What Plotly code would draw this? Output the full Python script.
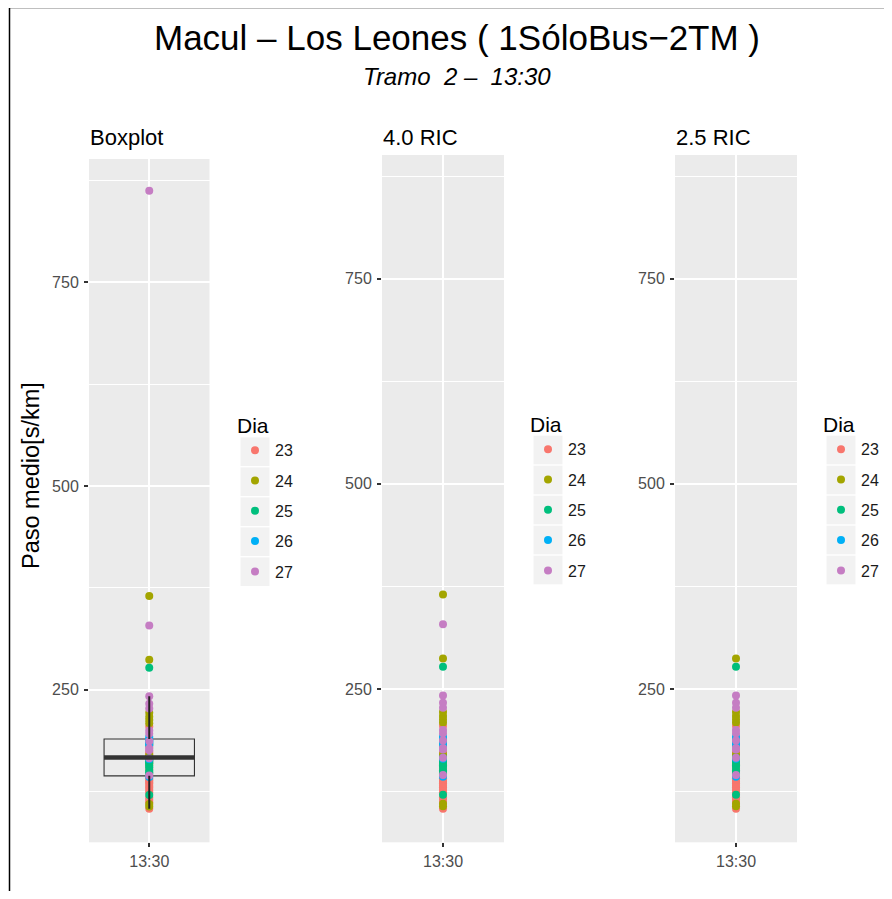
import numpy as np
import plotly.graph_objects as go

# ---------------- data ----------------
title_text = "Macul – Los Leones ( 1SóloBus−2TM )"
subtitle_text = "Tramo\u00a0 2 –\u00a0 13:30"
panel_titles = ["Boxplot", "4.0 RIC", "2.5 RIC"]
ric_factors = [None, 4.0, 2.5]
time_labels = ["13:30"]
y_title = "Paso medio[s/km]"
legend_title = "Dia"
days = ["23", "24", "25", "26", "27"]
day_colors = ["#F8766D", "#A3A500", "#00BF7D", "#00B0F6", "#C57DC3"]

paso_23 = [104, 112, 115, 118, 124, 127, 130, 132, 135, 137, 139, 141, 153, 162, 168, 172, 174, 180, 189, 205]
paso_24 = [107, 110, 158, 170, 183, 209, 213, 217, 222, 287, 365]
paso_25 = [121, 147, 149, 151, 155, 157, 160, 161, 163, 164, 166, 277]
paso_26 = [143, 165, 182, 184, 185, 186, 188, 189, 192]
paso_27 = [145, 166, 176, 178, 187, 196, 200, 227, 233, 242, 329, 862]
paso_by_day = [paso_23, paso_24, paso_25, paso_26, paso_27]

y_ticks = [250, 500, 750]
y_minor = [125, 375, 625, 875]
y_range = [63, 901]

# ---------------- stats ----------------
all_vals = np.concatenate([np.array(v, float) for v in paso_by_day])
q1, med, q3 = np.percentile(all_vals, [25, 50, 75])
iqr = q3 - q1
up_whisk = all_vals[all_vals <= q3 + 1.5 * iqr].max()
lo_whisk = all_vals[all_vals >= q1 - 1.5 * iqr].min()

# page has an 8px body margin; keep the figure inside the window
OFF = 8
W, H = 892 - OFF, 899 - 2 * OFF
def px(x):
    return (x - OFF) / W
def py(y):
    return 1 - (y - OFF) / H

panels = [
    dict(x0=89, x1=209.5, y0=159, y1=842.3),
    dict(x0=382, x1=504, y0=155, y1=842.3),
    dict(x0=675, x1=797, y0=155, y1=842.3),
]
legend_left = [235, 528, 821]
legend_top = [406, 405, 405]
key_first_y = [451.7, 450, 450]

fig = go.Figure()
FONT = "Liberation Sans, Arial, sans-serif"
tick_font = dict(family=FONT, size=16, color="#4D4D4D")

for p, (pan, k) in enumerate(zip(panels, ric_factors)):
    sfx = "" if p == 0 else str(p + 1)
    leg = "legend" if p == 0 else "legend" + str(p + 1)
    for d, vals, col in zip(days, paso_by_day, day_colors):
        v = np.array(vals, float)
        if k is not None:
            v = v[(v >= q1 - k * iqr) & (v <= q3 + k * iqr)]
        fig.add_trace(go.Scatter(
            x=np.zeros(len(v)), y=v, mode="markers", name=d,
            marker=dict(color=col, size=8),
            xaxis="x" + sfx, yaxis="y" + sfx,
            legend=leg, legendgroup=f"p{p}_{d}", showlegend=True,
        ))
    if k is None:
        fig.add_trace(go.Box(
            x=[0], q1=[q1], median=[med], q3=[q3],
            lowerfence=[lo_whisk], upperfence=[up_whisk],
            width=0.9, whiskerwidth=0, boxpoints=False,
            fillcolor="rgba(0,0,0,0)", line=dict(color="#333333", width=1.1),
            xaxis="x", yaxis="y", showlegend=False, hoverinfo="skip",
        ))
        # whiskers and fattened median, from the computed statistics
        fig.add_trace(go.Scatter(
            x=[0, 0, None, 0, 0], y=[q3, up_whisk, None, q1, lo_whisk], mode="lines",
            line=dict(color="#222222", width=2),
            xaxis="x", yaxis="y", showlegend=False, hoverinfo="skip",
        ))
        fig.add_trace(go.Scatter(
            x=[-0.45, 0.45], y=[med, med], mode="lines",
            line=dict(color="#333333", width=4.5),
            xaxis="x", yaxis="y", showlegend=False, hoverinfo="skip",
        ))

    fig.update_layout(**{
        "xaxis" + sfx: dict(
            domain=[px(pan["x0"]), px(pan["x1"])], anchor="y" + sfx,
            range=[-0.6, 0.6], tickvals=[0], ticktext=time_labels,
            showgrid=True, gridcolor="white", gridwidth=2, zeroline=False,
            ticks="outside", ticklen=4, tickwidth=1.5, tickcolor="#333333",
            tickfont=tick_font, showline=False, fixedrange=True,
        ),
        "yaxis" + sfx: dict(
            domain=[py(pan["y1"]), py(pan["y0"])], anchor="x" + sfx,
            range=y_range, tickvals=y_ticks,
            showgrid=True, gridcolor="white", gridwidth=2, zeroline=False,
            minor=dict(tickvals=y_minor, showgrid=True, gridcolor="white", gridwidth=1),
            ticks="outside", ticklen=4, tickwidth=1.5, tickcolor="#333333",
            tickfont=tick_font, showline=False, ticklabelstandoff=2,
        ),
        leg: dict(
            x=px(legend_left[p]), y=py(legend_top[p]), xanchor="left", yanchor="top",
            title=dict(text=legend_title, font=dict(family=FONT, size=21, color="black")),
            font=dict(family=FONT, size=16, color="#1a1a1a"),
            tracegroupgap=6.5, bgcolor="rgba(0,0,0,0)", borderwidth=0,
        ),
    })
    # panel title
    fig.add_annotation(
        x=px(pan["x0"] - 1), y=py(137), xref="paper", yref="paper",
        xanchor="left", yanchor="middle", showarrow=False,
        text=panel_titles[p], font=dict(family=FONT, size=22, color="black"),
    )
    # legend key backgrounds
    sx = legend_left[p] + 20
    for i in range(len(days)):
        cy = key_first_y[p] + 30 * i
        fig.add_shape(type="rect", xref="paper", yref="paper",
                      x0=px(sx - 14.5), x1=px(sx + 14.5),
                      y0=py(cy - 14.3), y1=py(cy + 14.3),
                      fillcolor="#F2F2F2", line=dict(width=0), layer="below")

fig.add_annotation(x=px(457), y=py(37), xref="paper", yref="paper",
                   xanchor="center", yanchor="middle", showarrow=False,
                   text=title_text, font=dict(family=FONT, size=35, color="black"))
fig.add_annotation(x=px(457), y=py(76), xref="paper", yref="paper",
                   xanchor="center", yanchor="middle", showarrow=False,
                   text="<i>" + subtitle_text + "</i>", font=dict(family=FONT, size=24, color="black"))
fig.add_annotation(x=px(31), y=py(476), xref="paper", yref="paper",
                   xanchor="center", yanchor="middle", showarrow=False, textangle=-90,
                   text=y_title, font=dict(family=FONT, size=23.5, color="black"))

# outer frame lines
fig.add_shape(type="line", xref="paper", yref="paper", x0=px(9), x1=1, y0=py(7.5), y1=py(7.5),
              line=dict(color="black", width=1.5))
fig.add_shape(type="line", xref="paper", yref="paper", x0=px(9.5), x1=px(9.5), y0=0, y1=py(7.5),
              line=dict(color="black", width=1.5))

fig.update_layout(
    width=W, height=H, margin=dict(l=0, r=0, t=0, b=0),
    paper_bgcolor="white", plot_bgcolor="#EBEBEB",
    font=dict(family=FONT, color="black"),
    showlegend=True,
)
fig.write_html("out.html")
